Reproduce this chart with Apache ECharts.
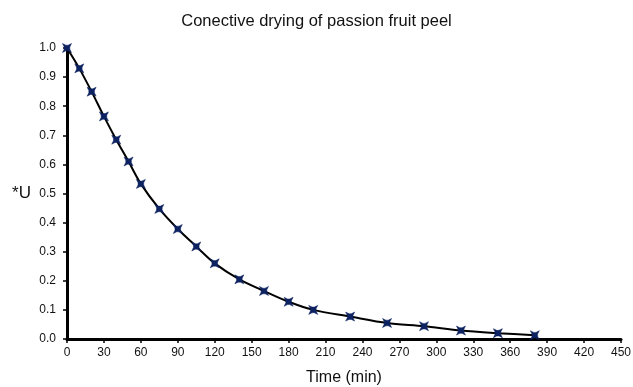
<!DOCTYPE html>
<html>
<head>
<meta charset="utf-8">
<script src="https://cdn.jsdelivr.net/npm/echarts@6/dist/echarts.min.js"></script>
<style>
  html, body { margin: 0; padding: 0; background: #fff; }
  #chart { width: 633px; height: 387px; }
</style>
</head>
<body>
<div id="chart"></div>
<script>
// drying time (min) and dimensionless moisture *U
const timeMin = [0, 10, 20, 30, 40, 50, 60, 75, 90, 105, 120, 140, 160, 180, 200, 230, 260, 290, 320, 350, 380];
const moisture = [1.0, 0.93, 0.85, 0.765, 0.685, 0.61, 0.533, 0.447, 0.378, 0.318, 0.26, 0.205, 0.165, 0.128, 0.1, 0.077, 0.055, 0.044, 0.029, 0.02, 0.013];
const xTicks = { min: 0, max: 450, step: 30 };
const yTicks = { min: 0, max: 1, step: 0.1 };

const chart = echarts.init(document.getElementById('chart'));

// square with pointed corners, like the original's star marks
const starMarker = 'path://M0,0 L3,1.5 L5,1.5 L8,0 L6.5,3 L6.5,5 L8,8 L5,6.5 L3,6.5 L0,8 L1.5,5 L1.5,3 Z';

const option = {
  animation: false,
  title: {
    text: 'Conective drying of passion fruit peel',
    left: 'center',
    top: 8,
    textStyle: {
      fontFamily: 'Liberation Sans',
      fontSize: 16.5,
      fontWeight: 'normal',
      color: '#111'
    }
  },
  grid: {
    left: 67,
    right: 12,
    top: 48,
    bottom: 48,
    outerBoundsMode: 'none'
  },
  xAxis: {
    type: 'value',
    min: xTicks.min,
    max: xTicks.max,
    interval: xTicks.step,
    name: 'Time (min)',
    nameLocation: 'middle',
    nameGap: 31,
    nameTextStyle: { fontFamily: 'Liberation Sans', fontSize: 16, color: '#111' },
    axisLine: { lineStyle: { color: '#000', width: 3 } },
    axisTick: { length: 4, lineStyle: { color: '#000', width: 1.5 } },
    axisLabel: { fontFamily: 'Liberation Sans', fontSize: 12, color: '#111', margin: 8 },
    splitLine: { show: false }
  },
  yAxis: {
    type: 'value',
    min: yTicks.min,
    max: yTicks.max,
    interval: yTicks.step,
    name: '*U',
    nameLocation: 'middle',
    nameRotate: 0,
    nameGap: 36,
    nameTextStyle: { fontFamily: 'Liberation Sans', fontSize: 17, color: '#111' },
    axisLine: { show: true, lineStyle: { color: '#000', width: 3 } },
    axisTick: { show: true, length: 4, lineStyle: { color: '#000', width: 1.5 } },
    axisLabel: {
      fontFamily: 'Liberation Sans',
      fontSize: 12,
      color: '#111',
      margin: 11,
      formatter: v => v.toFixed(1)
    },
    splitLine: { show: false }
  },
  series: [
    {
      type: 'line',
      data: timeMin.map((t, i) => [t, moisture[i]]),
      smooth: 0.3,
      symbol: starMarker,
      symbolSize: 9,
      itemStyle: { color: '#0d2260', borderColor: '#0d2260', borderWidth: 0.5 },
      lineStyle: { color: '#000', width: 2 },
      z: 3
    }
  ]
};

chart.setOption(option);
</script>
</body>
</html>
